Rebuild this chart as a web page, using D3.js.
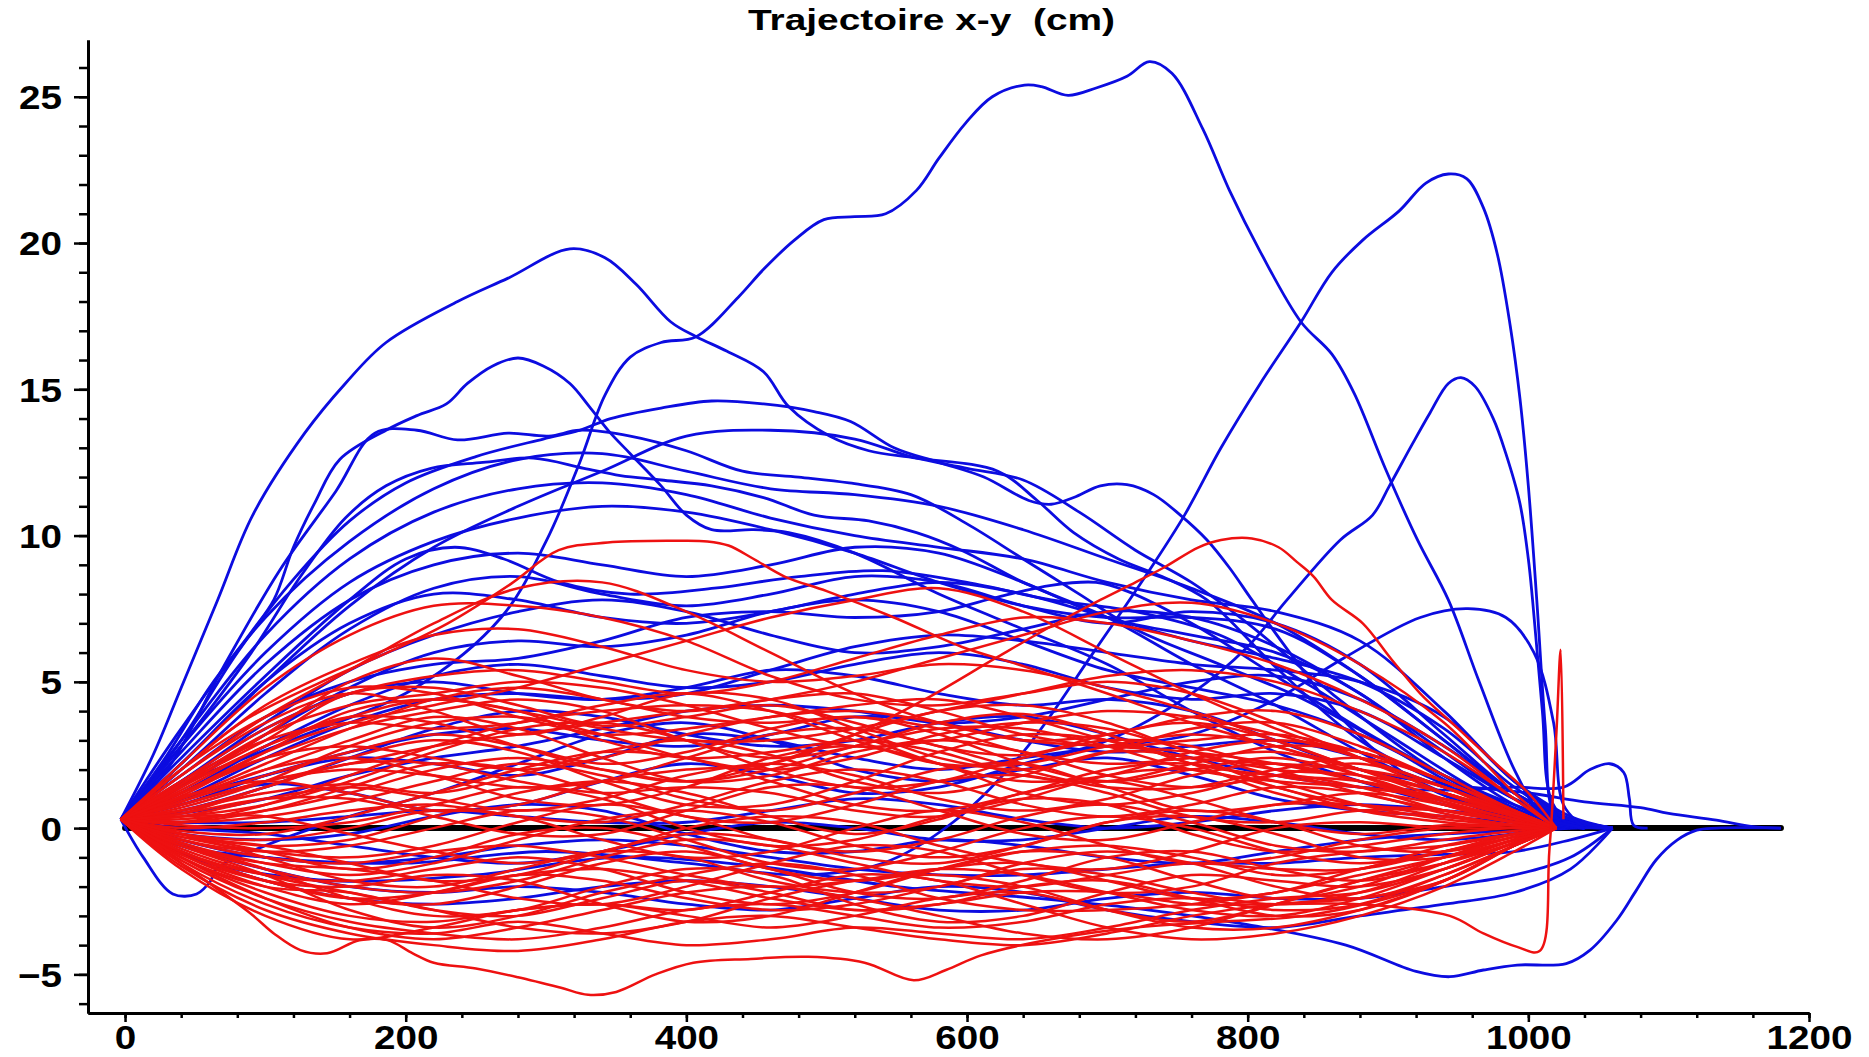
<!doctype html>
<html lang="fr">
<head>
<meta charset="utf-8">
<title>Trajectoire x-y (cm)</title>
<style>
  html, body { margin: 0; padding: 0; background: #fff; }
  svg { display: block; background: #fff; }
  .axis text { font-family: "Liberation Sans", Arial, sans-serif; font-weight: bold; font-size: 33px; fill: #000; }
  .axis path, .axis line { stroke: #000; }
  .title { font-family: "Liberation Sans", Arial, sans-serif; font-weight: bold; font-size: 29px; white-space: pre; }
</style>
</head>
<body>
<svg id="chart" width="1869" height="1057"></svg>
<script src="https://cdn.jsdelivr.net/npm/d3@7/dist/d3.min.js"></script>
<script>
// ---- data ---------------------------------------------------------------
const title = "Trajectoire x-y  (cm)";
const xTicks = [0, 200, 400, 600, 800, 1000, 1200];
const yTicks = [-5, 0, 5, 10, 15, 20, 25];

// straight reference trajectory (black)
const referenceLine = [[0, 0], [1180, 0]];

// red trials sampled on a common x grid
const redX = [-3, 40, 100, 160, 220, 280, 340, 400, 460, 520, 580, 640, 700, 760, 820, 880, 940, 990, 1020];
const redY = [
  [0.3, 1.5, 3.0, 4.6, 4.8, 4.2, 3.5, 3.8, 4.2, 3.6, 2.8, 2.5, 3.2, 3.6, 3.0, 2.0, 1.2, 0.5, 0],
  [0.3, 1.2, 2.4, 3.4, 4.0, 4.4, 4.0, 3.0, 2.4, 2.8, 3.6, 3.9, 3.2, 2.2, 1.8, 1.6, 1.0, 0.4, 0],
  [0.3, 0.9, 1.8, 2.6, 3.2, 2.8, 2.2, 2.6, 3.4, 3.8, 3.2, 2.2, 1.6, 2.0, 2.4, 1.8, 0.9, 0.3, 0],
  [0.3, 0.6, 1.2, 1.5, 1.2, 1.8, 2.6, 3.0, 2.5, 1.6, 1.2, 1.8, 2.6, 2.4, 1.4, 0.8, 0.6, 0.2, 0],
  [0.3, 0.2, 0.4, 0.9, 1.6, 2.2, 1.8, 1.0, 0.6, 1.2, 2.0, 2.2, 1.4, 0.6, 0.8, 1.2, 0.8, 0.3, 0],
  [0.3, -0.2, -0.6, -0.4, 0.4, 1.2, 1.6, 1.2, 0.4, -0.2, 0.3, 1.2, 1.6, 1.0, 0.2, -0.2, 0.1, 0.1, 0],
  [0.3, -0.5, -1.2, -1.6, -1.2, -0.4, 0.3, 0.6, 0.2, -0.6, -1.0, -0.6, 0.2, 0.6, 0.2, -0.6, -0.8, -0.3, 0],
  [0.3, -0.8, -1.8, -2.4, -2.6, -2.0, -1.2, -0.8, -1.4, -2.2, -2.4, -1.8, -1.0, -0.8, -1.4, -1.8, -1.2, -0.4, 0],
  [0.3, -1.0, -2.2, -3.0, -3.2, -2.8, -2.6, -3.0, -3.4, -3.0, -2.4, -2.2, -2.8, -3.2, -2.6, -1.8, -1.0, -0.3, 0],
  [0.3, -1.2, -2.6, -3.4, -3.6, -3.2, -3.6, -4.0, -3.8, -3.4, -3.6, -3.8, -3.4, -2.8, -2.4, -2.2, -1.4, -0.5, 0],
  [0.3, 1.8, 3.6, 4.6, 4.0, 3.2, 3.8, 4.6, 4.4, 3.4, 2.4, 2.0, 2.6, 3.4, 3.6, 2.8, 1.6, 0.6, 0],
  [0.3, 1.0, 2.0, 3.0, 3.8, 3.4, 2.4, 1.6, 1.8, 2.6, 3.0, 2.6, 1.8, 1.4, 1.8, 2.2, 1.4, 0.5, 0],
  [0.3, 0.4, 0.8, 1.6, 2.6, 3.4, 3.6, 3.0, 2.0, 1.4, 1.6, 2.4, 3.0, 2.8, 2.0, 1.2, 0.6, 0.2, 0],
  [0.3, 0.0, 0.2, 0.6, 0.8, 0.4, 0.2, 0.8, 1.6, 2.0, 1.6, 0.8, 0.4, 0.8, 1.4, 1.2, 0.5, 0.1, 0],
  [0.3, -0.3, -0.8, -1.0, -0.6, 0.2, 0.8, 0.4, -0.4, -0.8, -0.4, 0.4, 0.8, 0.2, -0.6, -0.8, -0.4, -0.1, 0],
  [0.3, -0.6, -1.4, -2.0, -2.2, -1.8, -1.0, -0.4, -0.6, -1.2, -1.8, -2.0, -1.6, -1.2, -1.4, -1.4, -0.8, -0.2, 0],
  [0.3, -0.9, -2.0, -2.6, -2.2, -1.6, -1.8, -2.4, -2.8, -2.6, -2.0, -1.4, -1.6, -2.2, -2.6, -2.2, -1.2, -0.4, 0],
  [0.3, -1.1, -2.4, -3.2, -3.6, -3.8, -3.4, -2.8, -2.6, -3.0, -3.4, -3.2, -2.6, -2.4, -2.8, -2.6, -1.6, -0.6, 0],
  [0.3, 1.4, 3.2, 5.0, 5.8, 5.2, 4.4, 4.0, 4.4, 4.6, 4.0, 3.2, 2.8, 3.0, 3.2, 2.6, 1.6, 0.6, 0],
  [0.3, 2.0, 4.2, 5.6, 6.6, 6.8, 6.2, 5.4, 5.0, 5.2, 5.6, 5.4, 4.8, 4.0, 3.0, 2.0, 1.0, 0.4, 0],
  [0.3, 2.2, 4.8, 6.6, 7.6, 7.6, 7.2, 6.4, 5.2, 4.4, 4.2, 4.6, 5.0, 4.6, 3.6, 2.4, 1.2, 0.4, 0],
  [0.3, 1.8, 3.8, 5.4, 7.0, 8.2, 8.4, 7.4, 6.0, 4.6, 3.6, 3.0, 2.8, 2.6, 2.2, 1.6, 0.9, 0.3, 0],
  [0.3, 1.2, 2.6, 3.6, 4.2, 4.8, 5.6, 6.4, 7.2, 7.8, 8.2, 7.4, 6.0, 4.6, 3.4, 2.4, 1.4, 0.5, 0],
  [0.3, 0.8, 1.6, 2.2, 2.8, 3.2, 3.6, 4.0, 4.4, 5.0, 5.8, 6.6, 7.4, 7.7, 7.0, 5.6, 3.6, 1.2, 0],
  [0.3, 1.6, 3.4, 4.6, 5.2, 5.4, 5.0, 4.6, 5.0, 5.8, 6.6, 7.2, 7.0, 6.4, 5.6, 4.4, 2.8, 1.0, 0],
  [0.3, 1.4, 2.8, 3.8, 4.4, 4.0, 3.4, 3.0, 3.0, 3.4, 4.0, 4.6, 5.2, 5.4, 5.0, 4.0, 2.6, 1.0, 0],
  [0.3, -0.4, -1.0, -1.2, -0.8, -0.6, -1.0, -1.6, -2.0, -1.8, -1.4, -1.6, -2.2, -2.8, -3.0, -2.4, -1.4, -0.5, 0],
  [0.3, -0.7, -1.6, -2.2, -2.8, -3.4, -3.6, -3.2, -2.4, -1.8, -1.6, -2.0, -2.8, -3.4, -3.4, -2.8, -1.8, -0.6, 0],
  [0.3, -1.3, -2.8, -3.6, -4.0, -4.2, -3.8, -3.2, -3.0, -3.4, -3.8, -4.0, -3.6, -3.0, -2.6, -2.4, -1.8, -0.6, 0],
  [0.3, 0.6, 1.4, 2.4, 3.0, 2.6, 1.6, 0.8, 0.8, 1.6, 2.6, 3.2, 3.0, 2.2, 1.2, 0.6, 0.4, 0.1, 0],
  [0.3, 0.8, 1.6, 2.0, 1.8, 1.4, 1.6, 2.4, 3.2, 3.4, 2.8, 2.0, 1.4, 1.4, 2.0, 2.4, 1.6, 0.5, 0],
  [0.3, 0.1, 0.0, 0.2, 0.8, 1.4, 1.0, 0.0, -0.6, -0.4, 0.4, 1.0, 0.8, -0.2, -0.8, -0.6, -0.2, 0.0, 0],
  [0.3, -0.2, -0.4, 0.0, 0.6, 0.4, -0.4, -1.0, -0.8, 0.0, 0.6, 0.2, -0.6, -1.2, -1.0, -0.4, 0.0, 0.1, 0],
  [0.3, 1.0, 2.2, 3.4, 4.4, 4.8, 4.4, 3.8, 3.6, 3.8, 3.4, 2.6, 2.2, 2.4, 2.6, 2.0, 1.2, 0.4, 0],
  [0.3, 1.6, 3.0, 3.6, 3.4, 3.6, 4.2, 4.6, 4.0, 3.0, 2.2, 2.2, 2.8, 3.2, 2.8, 1.8, 0.8, 0.2, 0],
  [0.3, -0.9, -1.8, -2.0, -1.6, -1.8, -2.6, -3.2, -3.0, -2.2, -1.4, -1.2, -1.8, -2.4, -2.2, -1.4, -0.8, -0.3, 0],
  [0.3, -1.4, -3.0, -3.8, -3.4, -2.8, -2.6, -2.8, -2.2, -1.6, -1.8, -2.6, -3.4, -3.8, -3.6, -3.0, -2.0, -0.8, 0],
  [0.3, 0.3, 0.6, 1.2, 2.0, 2.4, 2.0, 1.6, 2.0, 2.8, 3.4, 3.4, 2.8, 2.0, 1.6, 1.4, 1.0, 0.4, 0],
  [0.3, 1.2, 2.4, 2.8, 2.4, 2.0, 2.4, 3.2, 3.8, 4.0, 3.6, 3.0, 3.2, 3.8, 4.0, 3.2, 1.8, 0.6, 0],
  [0.3, 0.5, 1.0, 1.0, 0.4, -0.2, -0.2, 0.6, 1.4, 1.4, 0.6, -0.2, -0.4, 0.2, 0.8, 0.8, 0.4, 0.1, 0],
  [0.3, -0.5, -1.4, -2.4, -3.0, -2.8, -2.0, -1.4, -1.6, -2.6, -3.2, -3.0, -2.2, -1.6, -1.8, -2.0, -1.4, -0.5, 0],
  [0.3, -0.2, -1.0, -1.8, -2.0, -1.4, -0.8, -1.0, -1.8, -2.2, -2.0, -1.2, -0.8, -1.2, -2.0, -2.4, -1.6, -0.6, 0],
  [0.3, 0.4, 0.4, -0.2, -0.8, -1.2, -0.8, 0.0, 0.4, 0.2, -0.6, -1.2, -1.4, -0.8, 0.0, 0.2, 0.0, 0.0, 0],
  [0.3, 2.0, 3.8, 4.8, 4.6, 3.8, 3.2, 3.4, 3.8, 4.2, 4.4, 3.8, 3.0, 2.4, 2.2, 2.0, 1.4, 0.5, 0],
  [0.3, -1.0, -2.4, -3.4, -3.8, -3.4, -2.8, -2.2, -2.0, -2.4, -3.0, -3.6, -3.8, -3.4, -2.6, -1.8, -1.2, -0.5, 0],
  [0.3, 0.2, 0.8, 1.8, 2.8, 3.6, 4.0, 4.2, 4.0, 3.2, 2.2, 1.6, 1.8, 2.6, 3.0, 2.6, 1.6, 0.6, 0],
  [0.3, 0.7, 1.6, 2.8, 3.6, 3.8, 3.2, 2.4, 2.0, 2.4, 3.2, 3.6, 3.4, 2.6, 1.8, 1.4, 1.0, 0.4, 0],
  [0.3, 0.4, 1.0, 1.4, 1.0, 0.6, 1.0, 1.8, 2.2, 1.8, 1.0, 0.6, 1.0, 1.8, 2.2, 1.6, 0.8, 0.2, 0],
  [0.3, -0.1, -0.2, 0.4, 1.2, 2.0, 2.6, 2.4, 1.6, 0.8, 0.6, 1.2, 2.0, 2.2, 1.6, 0.8, 0.3, 0.1, 0],
  [0.3, -0.4, -0.8, -0.6, 0.0, 0.6, 0.4, -0.4, -1.2, -1.4, -0.8, 0.0, 0.4, 0.0, -0.8, -1.2, -0.8, -0.2, 0],
  [0.3, -0.6, -1.2, -1.4, -1.8, -2.4, -2.6, -2.0, -1.2, -0.6, -0.8, -1.6, -2.2, -2.0, -1.2, -0.8, -0.6, -0.2, 0],
  [0.3, -0.8, -1.6, -1.8, -1.4, -1.0, -1.4, -2.2, -2.6, -2.2, -1.4, -0.8, -1.0, -1.8, -2.4, -2.0, -1.0, -0.3, 0],
  [0.3, 1.3, 2.8, 3.8, 3.6, 2.8, 2.0, 1.6, 2.2, 3.2, 4.0, 4.2, 3.6, 2.6, 2.0, 1.8, 1.2, 0.4, 0],
  [0.3, 0.9, 2.0, 2.4, 1.8, 1.0, 0.8, 1.4, 2.4, 2.8, 2.2, 1.2, 0.8, 1.2, 1.8, 1.4, 0.6, 0.2, 0],
  [0.3, 0.2, 0.6, 1.4, 2.2, 2.0, 1.2, 0.4, 0.2, 0.8, 1.6, 1.8, 1.2, 0.4, 0.2, 0.6, 0.6, 0.2, 0],
  [0.3, -0.3, -0.6, -1.2, -1.8, -1.6, -0.8, -0.2, -0.4, -1.0, -1.2, -0.6, 0.2, 0.4, -0.2, -1.0, -1.0, -0.4, 0],
  [0.3, -1.0, -2.0, -2.2, -2.8, -3.0, -2.4, -1.8, -2.2, -2.8, -2.6, -2.0, -1.8, -2.4, -3.0, -2.8, -1.8, -0.6, 0],
  [0.3, 1.1, 2.6, 4.0, 4.4, 4.0, 3.0, 2.4, 2.6, 3.0, 2.6, 1.8, 1.6, 2.2, 2.8, 2.6, 1.6, 0.6, 0],
  [0.3, 0.5, 1.4, 2.2, 2.2, 1.6, 1.2, 1.4, 1.2, 0.6, 0.4, 1.0, 1.8, 2.0, 1.4, 0.6, 0.2, 0.0, 0],
  [0.3, -0.2, -0.8, -1.4, -1.0, -0.2, 0.0, -0.6, -1.4, -1.8, -1.4, -0.8, -0.6, -1.0, -1.6, -1.4, -0.6, -0.2, 0],
  [0.3, 1.5, 3.2, 4.2, 4.6, 5.0, 4.8, 4.2, 3.4, 2.8, 3.0, 3.6, 4.0, 3.8, 3.2, 2.4, 1.4, 0.4, 0],
  [0.3, -0.6, -1.6, -2.8, -3.4, -3.0, -2.2, -1.6, -1.2, -1.6, -2.4, -2.8, -2.8, -2.6, -2.2, -1.6, -1.0, -0.4, 0]
];

// red trials read point by point (outliers)
const redLow = [[-3, 0.3], [40, -1.2], [89, -2.9], [106, -3.6], [125, -4.17], [144, -4.28], [167, -3.83], [187, -3.83],
  [205, -4.28], [220, -4.6], [250, -4.8], [280, -5.1], [310, -5.45], [330, -5.7], [350, -5.6], [378, -5.0], [405, -4.6],
  [446, -4.47], [487, -4.4], [527, -4.6], [562, -5.2], [585, -4.85], [610, -4.35], [660, -3.8], [720, -3.4], [780, -3.2],
  [840, -3.0], [900, -2.4], [950, -1.6], [990, -0.6], [1020, 0]];
const redPeak400 = [[-3, 0.3], [40, 2.0], [84, 3.65], [140, 5.0], [187, 6.0], [230, 7.0], [275, 8.35], [309, 9.5], [344, 9.76],
  [391, 9.82], [415, 9.8], [430, 9.66], [448, 9.2], [470, 8.6], [500, 8.1], [548, 7.2], [596, 6.2], [636, 5.6], [700, 4.6],
  [760, 3.6], [820, 2.8], [880, 2.0], [940, 1.2], [990, 0.5], [1020, 0]];
const redPeak800 = [[-3, 0.3], [50, 1.2], [100, 1.6], [160, 1.2], [220, 0.6], [280, 0.8], [340, 1.6], [400, 2.0], [460, 2.2],
  [520, 3.2], [570, 4.4], [620, 5.8], [660, 6.9], [695, 7.8], [720, 8.4], [740, 8.9], [765, 9.6], [781, 9.85], [803, 9.9],
  [822, 9.6], [835, 9.1], [847, 8.6], [860, 7.8], [882, 7.0], [902, 5.8], [923, 4.6], [950, 3.4], [977, 2.2], [1000, 1.2], [1020, 0]];
const redSpike = [[-3, 0.3], [40, -0.8], [100, -1.8], [160, -2.4], [220, -2.2], [280, -1.6], [340, -1.4], [400, -1.8],
  [460, -2.4], [520, -2.8], [580, -2.6], [640, -2.2], [700, -2.2], [760, -2.6], [820, -2.6], [880, -2.6], [944, -3.0],
  [968, -3.6], [992, -4.06], [1008, -4.2], [1015, -0.75], [1020, 3.25], [1023, 6.1], [1025, 0.3]];
const redCurves = [redLow, redPeak400, redPeak800, redSpike];

// blue trials sampled on a common x grid
const blueX = [-3, 40, 100, 160, 220, 280, 340, 400, 460, 520, 580, 640, 700, 760, 820, 880, 940, 990, 1030, 1060];
const blueY = [
  [0.3, 2.6, 5.6, 7.8, 9.0, 9.4, 9.0, 8.6, 9.0, 9.6, 9.4, 8.4, 7.2, 6.6, 6.0, 4.6, 2.4, 0.8, 0.1, 0],
  [0.3, 2.0, 4.6, 6.8, 8.2, 8.6, 8.0, 7.6, 8.0, 8.6, 8.4, 7.6, 7.0, 7.4, 7.0, 5.6, 3.2, 1.2, 0.2, 0],
  [0.3, 1.6, 3.6, 5.4, 6.6, 7.4, 7.8, 7.4, 6.6, 6.0, 6.2, 6.8, 7.4, 7.2, 6.2, 4.6, 2.6, 1.0, 0.2, 0],
  [0.3, 1.2, 2.8, 4.2, 5.2, 5.6, 5.2, 4.8, 5.0, 5.6, 6.0, 5.6, 4.8, 4.4, 4.6, 4.0, 2.4, 1.0, 0.3, 0],
  [0.3, 0.8, 1.8, 2.6, 3.2, 3.4, 3.0, 2.8, 3.2, 3.8, 3.6, 3.0, 2.6, 2.8, 3.0, 2.4, 1.4, 0.6, 0.2, 0],
  [0.3, 0.2, 0.2, 0.4, 0.6, 0.4, 0.2, 0.2, 0.6, 1.0, 0.8, 0.3, 0.0, 0.2, 0.6, 0.8, 0.6, 0.4, 0.2, 0],
  [0.3, -0.4, -1.0, -1.2, -1.0, -0.6, -0.4, -0.6, -1.0, -1.4, -1.6, -1.6, -1.4, -1.2, -1.2, -1.0, -0.9, -0.8, -0.4, 0],
  [0.3, -0.8, -1.8, -2.4, -2.6, -2.4, -2.0, -1.8, -2.0, -2.4, -2.8, -2.8, -2.4, -2.2, -2.4, -2.4, -2.0, -1.6, -1.0, 0],
  [0.3, 3.0, 6.6, 9.2, 10.8, 11.6, 11.8, 11.4, 10.6, 10.0, 9.6, 9.2, 8.4, 7.8, 7.4, 6.4, 4.0, 1.6, 0.3, 0],
  [0.3, 2.8, 6.0, 8.4, 9.8, 10.6, 11.0, 10.8, 10.2, 9.4, 8.4, 7.6, 7.2, 7.2, 6.8, 5.2, 3.0, 1.2, 0.3, 0],
  [0.3, 1.4, 3.2, 4.8, 6.0, 6.4, 6.2, 6.6, 7.4, 7.8, 7.4, 6.4, 5.4, 4.8, 4.2, 3.2, 1.8, 0.8, 0.2, 0],
  [0.3, 0.5, 1.0, 1.8, 2.4, 2.8, 3.4, 4.0, 4.2, 4.0, 3.6, 3.8, 4.4, 5.0, 5.2, 4.4, 2.8, 1.2, 0.3, 0],
  [0.3, -0.2, -0.4, -0.2, 0.4, 0.8, 0.6, -0.2, -0.8, -0.8, -0.4, -0.6, -1.0, -1.2, -0.8, -0.4, -0.2, -0.1, 0.0, 0],
  [0.3, -0.6, -1.4, -2.0, -2.2, -2.0, -2.2, -2.6, -2.8, -2.4, -2.0, -2.2, -2.8, -3.2, -3.4, -3.0, -2.6, -2.2, -1.4, 0],
  [0.3, 2.2, 5.0, 7.0, 8.0, 7.8, 7.2, 7.0, 7.4, 8.0, 8.4, 8.0, 7.2, 6.4, 5.8, 5.0, 3.4, 1.4, 0.3, 0],
  [0.3, 1.0, 2.4, 3.6, 4.4, 4.6, 4.4, 4.6, 5.4, 6.2, 6.6, 6.4, 6.0, 5.6, 5.4, 5.0, 3.8, 1.6, 0.4, 0],
  [0.3, 3.4, 7.2, 9.8, 11.6, 12.6, 12.8, 12.2, 11.6, 11.4, 11.0, 10.2, 9.2, 8.2, 7.0, 5.2, 3.0, 1.2, 0.3, 0],
  [0.3, 0.0, -0.2, -0.6, -1.0, -1.2, -0.8, -0.2, 0.2, 0.0, -0.4, -0.4, 0.0, 0.4, 0.2, -0.2, -0.4, -0.2, 0.0, 0]
];

// blue trials read point by point
const bluePeak730 = [[-3, 0.3], [40, 1.5], [118, 3.0], [207, 4.8], [268, 7.2], [300, 9.8], [324, 12.5], [342, 14.8], [360, 16.1],
  [382, 16.6], [407, 16.8], [437, 18.15], [455, 19.1], [477, 20.1], [498, 20.8], [520, 20.9], [542, 21.0], [564, 21.8],
  [580, 22.9], [599, 24.1], [618, 25.0], [641, 25.4], [653, 25.35], [672, 25.05], [692, 25.3], [714, 25.7], [730, 26.2],
  [746, 25.8], [768, 23.9], [787, 21.8], [809, 19.7], [838, 17.3], [860, 16.2], [876, 14.85], [898, 12.3], [921, 9.85],
  [943, 7.8], [965, 5.0], [990, 2.0], [1010, 0.4], [1025, 0]];
const bluePeak945 = [[-3, 0.3], [40, -0.6], [100, -1.0], [200, -1.2], [300, -0.8], [400, -1.2], [480, -1.6], [540, -1.2],
  [590, 0.2], [640, 2.6], [690, 6.0], [727, 8.6], [755, 10.7], [781, 13.0], [809, 15.2], [838, 17.3], [860, 19.0],
  [882, 20.1], [908, 21.1], [927, 22.05], [943, 22.36], [956, 22.2], [968, 21.2], [978, 19.6], [987, 17.2], [994, 14.7],
  [1000, 11.7], [1006, 7.8], [1012, 3.5], [1018, 0.5], [1030, 0]];
const bluePeak320 = [[-3, 0.3], [20, 2.5], [40, 4.8], [66, 7.8], [91, 10.7], [128, 13.5], [157, 15.2], [186, 16.6],
  [237, 18.0], [273, 18.8], [317, 19.8], [342, 19.5], [364, 18.6], [389, 17.3], [407, 16.8], [429, 16.3], [455, 15.6],
  [473, 14.4], [502, 13.4], [530, 12.9], [564, 12.65], [622, 12.2], [650, 11.2], [676, 10.1], [708, 9.2], [739, 8.6],
  [771, 7.8], [820, 5.5], [880, 3.0], [940, 1.5], [990, 0.6], [1030, 0]];
const bluePeak955 = [[-3, 0.3], [40, 0.8], [100, 1.5], [160, 1.2], [220, 0.6], [280, 0.8], [340, 1.6], [400, 2.2],
  [460, 1.8], [520, 1.2], [580, 1.4], [640, 2.2], [700, 3.0], [760, 4.6], [800, 6.2], [828, 7.8], [866, 9.85], [889, 10.7],
  [901, 11.7], [917, 13.1], [930, 14.2], [943, 15.2], [952, 15.4], [962, 15.1], [975, 14.0], [984, 12.8], [994, 11.1],
  [1000, 9.2], [1003, 7.8], [1010, 4.0], [1016, 1.0], [1030, 0]];
const blueSmall955 = [[-3, 0.3], [40, 1.0], [100, 1.8], [160, 2.4], [220, 2.2], [280, 1.8], [340, 2.4], [400, 3.2],
  [460, 3.0], [520, 2.4], [580, 2.0], [640, 2.4], [700, 2.8], [760, 3.2], [820, 4.4], [868, 5.8], [923, 7.2], [957, 7.5],
  [984, 7.2], [1004, 6.0], [1018, 3.6], [1025, 0.8], [1040, 0]];
const blueBump1060 = [[-3, 0.3], [40, 0.6], [100, 1.4], [160, 2.4], [220, 3.4], [280, 4.0], [340, 3.8], [400, 3.2],
  [460, 2.8], [520, 3.0], [580, 3.6], [640, 3.8], [700, 3.2], [760, 2.4], [820, 1.8], [880, 1.4], [944, 1.3], [990, 1.4],
  [1025, 1.4], [1044, 2.0], [1058, 2.2], [1068, 1.9], [1072, 1.0], [1075, 0.1], [1085, 0]];
const blueLow = [[-3, 0.3], [30, -0.6], [60, -1.2], [150, -1.8], [250, -1.6], [350, -1.0], [450, -1.3], [550, -2.0],
  [650, -2.4], [730, -2.8], [800, -3.3], [870, -4.0], [920, -4.9], [944, -5.08], [968, -4.85], [992, -4.68], [1027, -4.63],
  [1044, -4.17], [1063, -3.15], [1077, -2.12], [1091, -1.09], [1106, -0.41], [1120, -0.07], [1134, 0], [1180, 0]];
const blueDip = [[-3, 0.3], [13, -1.0], [34, -2.25], [51, -2.25], [61, -1.8], [65, -1.4], [100, -0.6], [160, 0.4],
  [220, 1.2], [280, 2.2], [340, 3.2], [400, 3.6], [460, 3.0], [520, 2.0], [580, 1.6], [640, 2.0], [700, 2.4], [760, 1.8],
  [820, 1.0], [880, 0.6], [940, 0.4], [990, 0.2], [1040, 0]];
const bluePlateau = [[-3, 0.3], [40, 3.0], [80, 6.0], [120, 8.5], [160, 10.5], [200, 11.8], [250, 12.7], [298, 13.3],
  [324, 13.6], [346, 14.0], [382, 14.36], [418, 14.6], [455, 14.5], [491, 14.24], [517, 13.9], [548, 13.0], [580, 12.5],
  [612, 12.0], [644, 11.2], [660, 11.07], [676, 11.3], [695, 11.7], [714, 11.74], [733, 11.4], [752, 10.7], [771, 9.85],
  [787, 8.9], [803, 7.8], [830, 6.0], [870, 3.6], [920, 1.6], [970, 0.6], [1020, 0.1], [1040, 0]];
const bluePeak280 = [[-3, 0.3], [30, 2.5], [60, 4.8], [90, 6.7], [106, 7.8], [120, 9.6], [135, 11.1], [153, 12.6],
  [186, 13.6], [208, 14.1], [229, 14.5], [244, 15.2], [262, 15.8], [280, 16.07], [298, 15.8], [317, 15.2], [331, 14.4],
  [346, 13.5], [360, 12.8], [382, 11.7], [400, 10.7], [418, 10.2], [448, 10.2], [473, 10.1], [520, 9.4], [580, 8.0],
  [640, 6.8], [700, 5.6], [760, 4.0], [820, 2.6], [880, 1.6], [940, 0.8], [1000, 0.2], [1040, 0]];
const blueHump190 = [[-3, 0.3], [30, 2.0], [70, 5.5], [110, 8.8], [150, 11.5], [178, 13.5], [208, 13.6], [237, 13.27],
  [273, 13.5], [302, 13.4], [324, 13.6], [360, 13.4], [400, 12.9], [440, 12.2], [480, 12.0], [516, 11.8], [560, 11.4],
  [600, 10.4], [640, 9.2], [680, 8.0], [720, 6.8], [780, 5.6], [840, 4.4], [900, 2.8], [950, 1.4], [1000, 0.4], [1040, 0]];
const blueRise460 = [[-3, 0.3], [40, 2.2], [100, 5.0], [160, 7.6], [220, 9.6], [280, 11.0], [340, 12.2], [400, 13.4],
  [460, 13.6], [520, 13.3], [560, 12.7], [600, 12.3], [640, 11.9], [680, 10.8], [720, 9.5], [760, 8.4], [800, 7.0],
  [860, 4.6], [920, 2.4], [970, 1.0], [1020, 0.2], [1040, 0]];
const blueArc290 = [[-3, 0.3], [40, 2.8], [90, 6.0], [125, 8.6], [157, 10.6], [186, 11.7], [218, 12.3], [255, 12.5],
  [291, 12.65], [327, 12.3], [353, 12.05], [382, 11.9], [418, 11.7], [455, 11.3], [491, 10.7], [530, 10.5], [564, 10.1],
  [596, 9.5], [640, 8.4], [700, 7.2], [760, 5.6], [820, 4.2], [880, 2.6], [940, 1.2], [990, 0.4], [1040, 0]];
const blueHump235 = [[-3, 0.3], [40, 2.4], [100, 5.2], [160, 7.8], [200, 9.2], [235, 9.6], [270, 9.2], [310, 8.4],
  [360, 8.0], [420, 8.2], [480, 8.6], [540, 8.8], [600, 8.4], [660, 7.8], [720, 7.4], [780, 6.6], [840, 5.0], [900, 3.2],
  [960, 1.4], [1000, 0.5], [1040, 0]];
const blueHump690 = [[-3, 0.3], [40, 1.8], [100, 3.8], [160, 5.0], [220, 5.6], [280, 5.8], [340, 6.4], [400, 7.2],
  [460, 7.4], [520, 7.2], [580, 7.4], [622, 7.9], [660, 8.3], [692, 8.4], [714, 8.1], [760, 7.0], [820, 5.2], [880, 3.4],
  [940, 1.8], [990, 0.6], [1040, 0]];
const blueTail = [[-3, 0.3], [40, 1.6], [100, 3.4], [160, 4.6], [220, 5.0], [280, 4.6], [340, 4.4], [400, 4.8], [460, 5.4],
  [520, 5.2], [580, 4.6], [640, 4.2], [700, 4.4], [760, 4.0], [820, 3.0], [880, 2.0], [940, 1.5], [1000, 1.2], [1040, 0.9],
  [1080, 0.7], [1100, 0.5], [1134, 0.27], [1160, 0.05], [1180, 0]];
const blueCurves = [bluePeak730, bluePeak945, bluePeak320, bluePeak955, blueSmall955, blueBump1060, blueLow, blueDip,
  bluePlateau, bluePeak280, blueHump190, blueRise460, blueArc290, blueHump235, blueHump690, blueTail];

// ---- chart --------------------------------------------------------------
(function () {
  "use strict";

  var svg = d3.select("#chart");

  var x = d3.scaleLinear().domain([-26.4, 1200]).range([88, 1809]),
    y = d3.scaleLinear().domain([-6.32, 26.94]).range([1013, 40]);

  var line = d3.line()
    .x(function (d) { return x(d[0]); })
    .y(function (d) { return y(d[1]); })
    .curve(d3.curveCatmullRom.alpha(0.5));

  function onGrid(xs) {
    return function (ys) { return xs.map(function (v, i) { return [v, ys[i]]; }); };
  }

  var blue = blueY.map(onGrid(blueX)).concat(blueCurves),
    red = redY.map(onGrid(redX)).concat(redCurves);

  // reference trajectory sits underneath the trials
  svg.append("path")
    .datum(referenceLine)
    .attr("d", d3.line().x(function (d) { return x(d[0]); }).y(function (d) { return y(d[1]); }))
    .attr("fill", "none")
    .attr("stroke", "#000")
    .attr("stroke-width", 6)
    .attr("stroke-linecap", "round");

  svg.append("g").selectAll("path")
    .data(blue)
    .join("path")
    .attr("d", line)
    .attr("fill", "none")
    .attr("stroke", "#0c0ce0")
    .attr("stroke-width", 2.8)
    .attr("stroke-linejoin", "round");

  svg.append("g").selectAll("path")
    .data(red)
    .join("path")
    .attr("d", line)
    .attr("fill", "none")
    .attr("stroke", "#ee1111")
    .attr("stroke-width", 2.5)
    .attr("stroke-linejoin", "round");

  // axes: minor ticks first, labelled majors on top
  svg.append("g")
    .attr("class", "axis")
    .attr("transform", "translate(88,0)")
    .call(d3.axisLeft(y).tickValues(d3.range(-6, 27, 1)).tickSize(9).tickSizeOuter(0).tickFormat(""));
  svg.append("g")
    .attr("class", "axis ylab")
    .attr("transform", "translate(88,0)")
    .call(d3.axisLeft(y).tickValues(yTicks).tickSize(14).tickSizeOuter(0).tickPadding(12));

  svg.append("g")
    .attr("class", "axis")
    .attr("transform", "translate(0,1013)")
    .call(d3.axisBottom(x).tickValues(d3.range(0, 1201, 40)).tickSize(5).tickSizeOuter(0).tickFormat(""));
  svg.append("g")
    .attr("class", "axis xlab")
    .attr("transform", "translate(0,1013)")
    .call(d3.axisBottom(x).tickValues(xTicks).tickSize(9).tickSizeOuter(0).tickPadding(4).tickFormat(d3.format("d")));

  svg.selectAll(".axis path.domain").attr("stroke-width", 3);
  svg.selectAll(".axis .tick line").attr("stroke-width", 2.5);
  svg.selectAll(".ylab .tick text").attr("dy", "0.36em");

  // the original lettering is noticeably wide, stretch the glyphs a bit
  svg.selectAll(".axis .tick text").each(function () {
    var w = this.getComputedTextLength();
    d3.select(this).attr("textLength", w * 1.17).attr("lengthAdjust", "spacingAndGlyphs");
  });

  svg.append("text")
    .attr("class", "title")
    .attr("x", 748)
    .attr("y", 30)
    .attr("textLength", 367)
    .attr("lengthAdjust", "spacingAndGlyphs")
    .text(title);
})();
</script>
</body>
</html>
